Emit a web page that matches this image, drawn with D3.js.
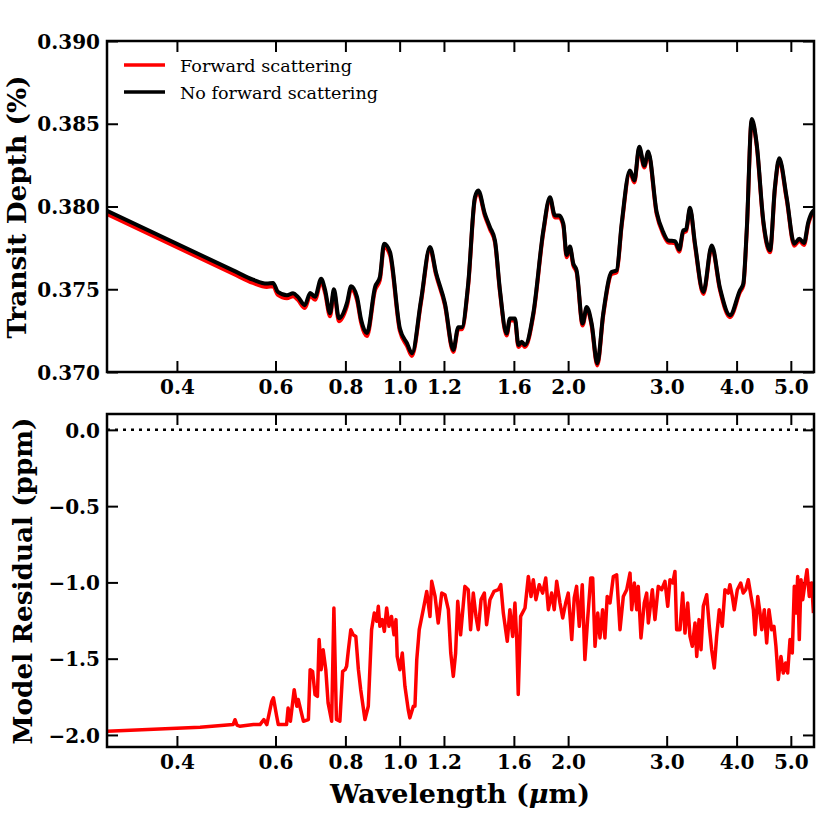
<!DOCTYPE html>
<html>
<head>
<meta charset="utf-8">
<script src="https://cdn.jsdelivr.net/npm/d3@7"></script>
<style>
body { margin: 0; background: #fff; }
.tick text { font-family: 'DejaVu Serif', serif; font-weight: bold; font-size: 20px; fill: #000; }
.tick line { stroke: #000; stroke-width: 2; }
</style>
</head>
<body>
<div id="chart"></div>
<script>
// transit spectrum, wavelength in micron
var specWave = [
  0.300,0.504,0.547,0.579,0.594,0.606,0.629,0.645,0.658,0.677,
  0.692,0.706,0.724,0.736,0.751,0.763,0.779,0.805,0.819,0.839,
  0.853,0.874,0.904,0.922,0.938,0.961,1.001,1.031,1.052,1.092,
  1.133,1.161,1.205,1.247,1.273,1.291,1.326,1.363,1.382,1.420,
  1.450,1.480,1.511,1.553,1.574,1.607,1.630,1.652,1.675,1.733,
  1.806,1.856,1.894,1.928,1.961,1.988,2.015,2.043,2.071,2.123,
  2.159,2.203,2.255,2.311,2.392,2.442,2.493,2.579,2.626,2.680,
  2.736,2.781,2.879,2.958,3.020,3.104,3.159,3.212,3.249,3.302,
  3.371,3.489,3.611,3.737,3.893,4.056,4.112,4.170,4.257,4.345,
  4.464,4.589,4.683,4.767,4.914,5.071,5.177,5.278,5.372,5.460,
  5.500
];
// transit depth (%) without forward scattering
var depthNoFwd = [
  0.37974,0.37614,0.37558,0.37534,0.37538,0.37484,0.37464,0.37476,0.37454,0.37404,
  0.37478,0.37454,0.37564,0.37494,0.37355,0.37500,0.37325,0.37416,0.37518,0.37454,
  0.37319,0.37235,0.37514,0.37574,0.37775,0.37725,0.37263,0.37173,0.37113,0.37434,
  0.37756,0.37602,0.37414,0.37133,0.37271,0.37271,0.37536,0.38056,0.38096,0.37956,
  0.37875,0.37795,0.37494,0.37233,0.37323,0.37323,0.37163,0.37183,0.37163,0.37354,
  0.37855,0.38056,0.37946,0.37946,0.37896,0.37705,0.37759,0.37655,0.37614,0.37293,
  0.37393,0.37293,0.37052,0.37354,0.37604,0.37614,0.37896,0.38217,0.38157,0.38361,
  0.38247,0.38333,0.37966,0.37845,0.37795,0.37791,0.37739,0.37855,0.37861,0.37992,
  0.37775,0.37484,0.37765,0.37504,0.37343,0.37494,0.37534,0.37855,0.38528,0.38378,
  0.37916,0.37735,0.38116,0.38291,0.38056,0.37775,0.37805,0.37779,0.37905,0.37966,
  0.37976
];
// transit depth (%) with forward scattering
var depthFwd = [
  0.37954,0.37594,0.37538,0.37514,0.37518,0.37466,0.37446,0.37458,0.37436,0.37386,
  0.37460,0.37436,0.37546,0.37476,0.37337,0.37482,0.37307,0.37398,0.37500,0.37436,
  0.37301,0.37217,0.37496,0.37556,0.37757,0.37707,0.37247,0.37157,0.37097,0.37421,
  0.37744,0.37590,0.37402,0.37121,0.37259,0.37259,0.37524,0.38044,0.38084,0.37944,
  0.37863,0.37783,0.37482,0.37221,0.37311,0.37311,0.37151,0.37171,0.37151,0.37342,
  0.37843,0.38044,0.37934,0.37934,0.37884,0.37693,0.37747,0.37643,0.37602,0.37281,
  0.37381,0.37281,0.37040,0.37342,0.37592,0.37602,0.37884,0.38205,0.38145,0.38349,
  0.38235,0.38321,0.37954,0.37833,0.37783,0.37779,0.37727,0.37843,0.37849,0.37980,
  0.37763,0.37472,0.37753,0.37492,0.37331,0.37482,0.37522,0.37843,0.38516,0.38366,
  0.37904,0.37723,0.38104,0.38279,0.38044,0.37763,0.37793,0.37767,0.37893,0.37954,
  0.37964
];

// model residual (ppm)
var residWave = [
  0.300,0.440,0.504,0.508,0.512,0.518,0.548,0.563,0.572,0.579,
  0.591,0.595,0.603,0.607,0.628,0.632,0.638,0.648,0.655,0.659,
  0.673,0.687,0.692,0.699,0.706,0.713,0.718,0.724,0.730,0.738,
  0.745,0.756,0.763,0.771,0.782,0.791,0.799,0.804,0.810,0.818,
  0.826,0.835,0.844,0.852,0.867,0.879,0.891,0.901,0.910,0.916,
  0.922,0.931,0.939,0.948,0.957,0.967,0.977,0.985,0.990,1.001,
  1.011,1.022,1.036,1.043,1.058,1.065,1.073,1.084,1.102,1.118,
  1.133,1.141,1.157,1.172,1.189,1.205,1.222,1.234,1.247,1.259,
  1.270,1.285,1.308,1.326,1.339,1.354,1.369,1.382,1.398,1.417,
  1.430,1.450,1.474,1.501,1.516,1.532,1.557,1.574,1.592,1.607,
  1.619,1.629,1.645,1.675,1.698,1.717,1.733,1.752,1.776,1.801,
  1.824,1.844,1.869,1.889,1.908,1.934,1.956,1.980,2.001,2.016,
  2.030,2.051,2.071,2.094,2.120,2.143,2.167,2.195,2.213,2.234,
  2.259,2.280,2.305,2.327,2.349,2.376,2.409,2.442,2.476,2.510,
  2.545,2.580,2.598,2.626,2.652,2.669,2.699,2.736,2.763,2.782,
  2.828,2.859,2.898,2.939,2.979,3.013,3.041,3.075,3.104,3.126,
  3.169,3.204,3.235,3.271,3.302,3.334,3.371,3.395,3.427,3.455,
  3.488,3.537,3.575,3.610,3.649,3.685,3.725,3.771,3.813,3.865,
  3.892,3.930,3.962,4.012,4.068,4.111,4.153,4.197,4.245,4.286,
  4.316,4.364,4.405,4.436,4.483,4.527,4.570,4.621,4.665,4.703,
  4.748,4.801,4.847,4.895,4.935,4.983,5.030,5.072,5.107,5.143,
  5.177,5.214,5.250,5.300,5.344,5.395,5.448,5.487
];
var residual = [
  -1.976,-1.950,-1.932,-1.900,-1.935,-1.943,-1.932,-1.932,-1.899,-1.932,
  -1.779,-1.757,-1.877,-1.932,-1.932,-1.823,-1.910,-1.703,-1.812,-1.768,
  -1.910,-1.899,-1.572,-1.583,-1.735,-1.747,-1.375,-1.572,-1.441,-1.572,
  -1.790,-1.910,-1.168,-1.899,-1.910,-1.583,-1.572,-1.550,-1.441,-1.310,
  -1.343,-1.354,-1.572,-1.703,-1.899,-1.812,-1.310,-1.201,-1.255,-1.157,
  -1.288,-1.244,-1.321,-1.168,-1.288,-1.223,-1.343,-1.244,-1.485,-1.572,
  -1.463,-1.681,-1.834,-1.888,-1.812,-1.812,-1.506,-1.310,-1.179,-1.059,
  -1.223,-0.993,-1.092,-1.266,-1.070,-1.081,-1.179,-1.463,-1.616,-1.463,
  -1.124,-1.343,-1.026,-1.048,-1.310,-1.070,-1.223,-1.310,-1.113,-1.070,
  -1.277,-1.113,-1.059,-1.048,-1.015,-1.201,-1.386,-1.179,-1.354,-1.135,
  -1.375,-1.735,-1.223,-1.168,-0.961,-1.092,-0.982,-1.113,-1.015,-1.070,
  -0.971,-1.179,-1.070,-1.179,-0.993,-1.135,-1.233,-1.135,-1.070,-1.223,
  -1.375,-1.102,-1.026,-1.288,-1.015,-1.506,-1.244,-0.971,-0.971,-1.419,
  -1.201,-1.364,-1.179,-1.364,-1.092,-1.135,-0.961,-0.950,-1.310,-1.092,
  -1.048,-0.939,-1.179,-1.004,-1.179,-1.026,-1.364,-1.135,-1.070,-1.266,
  -1.048,-1.244,-1.026,-1.048,-0.993,-1.157,-0.982,-1.004,-0.928,-1.310,
  -1.310,-1.070,-1.332,-1.135,-1.354,-1.419,-1.266,-1.485,-1.244,-1.441,
  -1.157,-1.081,-1.288,-1.441,-1.561,-1.354,-1.179,-1.288,-1.048,-1.070,
  -1.015,-1.092,-1.179,-1.048,-1.004,-1.070,-1.048,-0.982,-1.092,-1.179,
  -1.343,-1.092,-1.201,-1.310,-1.179,-1.397,-1.179,-1.310,-1.288,-1.419,
  -1.637,-1.485,-1.594,-1.528,-1.594,-1.375,-1.463,-1.026,-1.201,-0.961,
  -1.375,-0.982,-1.113,-1.004,-0.917,-1.092,-1.004,-1.201
];

var xTicks = [0.4, 0.6, 0.8, 1.0, 1.2, 1.6, 2.0, 3.0, 4.0, 5.0];
var depthTicks = [0.370, 0.375, 0.380, 0.385, 0.390];
var residTicks = [-2.0, -1.5, -1.0, -0.5, 0.0];
var legendLabels = ['Forward scattering', 'No forward scattering'];
var legendColors = ['#ff0000', '#000000'];

var width = 830, height = 830;
var left = 107, right = 814;
var topPanel = { y0: 41, y1: 372 };
var botPanel = { y0: 414, y1: 747 };
var serif = "'DejaVu Serif', serif";

var svg = d3.select('#chart').append('svg')
    .attr('width', width)
    .attr('height', height);

var x = d3.scaleLog().domain([0.3, 5.5]).range([left, right]);
var yTop = d3.scaleLinear().domain([0.370, 0.390]).range([topPanel.y1, topPanel.y0]);
var yBot = d3.scaleLinear().domain([-2.079, 0.104]).range([botPanel.y1, botPanel.y0]);

// clip paths for both panels
var defs = svg.append('defs');
[['clipTop', topPanel], ['clipBot', botPanel]].forEach(function (c) {
    defs.append('clipPath').attr('id', c[0])
        .append('rect')
        .attr('x', left).attr('y', c[1].y0)
        .attr('width', right - left).attr('height', c[1].y1 - c[1].y0);
});

function drawAxes(panel, yScale, yTicks, yFmt) {
    var g = svg.append('g');
    g.append('g')
        .attr('class', 'xbottom')
        .attr('transform', 'translate(0,' + panel.y1 + ')')
        .call(d3.axisBottom(x).tickValues(xTicks).tickFormat(d3.format('.1f'))
            .tickSizeInner(-11).tickSizeOuter(0).tickPadding(8));
    g.append('g')
        .attr('transform', 'translate(0,' + panel.y0 + ')')
        .call(d3.axisTop(x).tickValues(xTicks).tickFormat('')
            .tickSizeInner(-11).tickSizeOuter(0));
    g.append('g')
        .attr('transform', 'translate(' + left + ',0)')
        .call(d3.axisLeft(yScale).tickValues(yTicks).tickFormat(yFmt)
            .tickSizeInner(-11).tickSizeOuter(0).tickPadding(7));
    g.append('g')
        .attr('transform', 'translate(' + right + ',0)')
        .call(d3.axisRight(yScale).tickValues(yTicks).tickFormat('')
            .tickSizeInner(-11).tickSizeOuter(0));
    g.selectAll('.domain').remove();
    g.selectAll('.tick text').attr('dy', '0.36em');
    g.select('.xbottom').selectAll('.tick text').attr('dy', '0.71em');
    return g;
}

var minus = function (f) {
    return function (d) { return f(d).replace('-', '\u2212'); };
};

drawAxes(topPanel, yTop, depthTicks, d3.format('.3f'));
drawAxes(botPanel, yBot, residTicks, minus(d3.format('.1f')));

// top panel: spectra
var specLine = function (vals) {
    return d3.line()
        .x(function (d, i) { return x(specWave[i]); })
        .y(function (d) { return yTop(d); })
        .curve(d3.curveMonotoneX)(vals);
};
var topG = svg.append('g').attr('clip-path', 'url(#clipTop)');
topG.append('path')
    .attr('d', specLine(depthFwd))
    .attr('fill', 'none').attr('stroke', '#ff0000').attr('stroke-width', 4)
    .attr('stroke-linejoin', 'round');
topG.append('path')
    .attr('d', specLine(depthNoFwd))
    .attr('fill', 'none').attr('stroke', '#000').attr('stroke-width', 4)
    .attr('stroke-linejoin', 'round');

// bottom panel: residual
var botG = svg.append('g').attr('clip-path', 'url(#clipBot)');
botG.append('path')
    .attr('d', d3.line().x(function (d) { return x(d); }).y(yBot(0))(x.domain()))
    .attr('fill', 'none').attr('stroke', '#000').attr('stroke-width', 2.5)
    .attr('stroke-dasharray', '3,5');
botG.append('path')
    .attr('d', d3.line()
        .x(function (d, i) { return x(residWave[i]); })
        .y(function (d) { return yBot(d); })(residual))
    .attr('fill', 'none').attr('stroke', '#ff0000').attr('stroke-width', 3.5)
    .attr('stroke-linejoin', 'round');

// frames
[topPanel, botPanel].forEach(function (p) {
    svg.append('rect')
        .attr('x', left).attr('y', p.y0)
        .attr('width', right - left).attr('height', p.y1 - p.y0)
        .attr('fill', 'none').attr('stroke', '#000').attr('stroke-width', 2.5);
});

// legend
legendLabels.forEach(function (lab, i) {
    var yy = 65 + i * 27;
    svg.append('line')
        .attr('x1', 124).attr('x2', 165).attr('y1', yy).attr('y2', yy)
        .attr('stroke', legendColors[i]).attr('stroke-width', 3.5);
    svg.append('text')
        .attr('x', 180).attr('y', yy + 6.5)
        .attr('font-family', serif).attr('font-size', 17)
        .attr('textLength', i === 0 ? 172 : 198).attr('lengthAdjust', 'spacingAndGlyphs')
        .text(lab);
});

// axis titles
svg.append('text')
    .attr('transform', 'translate(26,207) rotate(-90)')
    .attr('text-anchor', 'middle')
    .attr('font-family', serif).attr('font-weight', 'bold').attr('font-size', 26)
    .attr('textLength', 263).attr('lengthAdjust', 'spacingAndGlyphs')
    .text('Transit Depth (%)');
svg.append('text')
    .attr('transform', 'translate(32,581) rotate(-90)')
    .attr('text-anchor', 'middle')
    .attr('font-family', serif).attr('font-weight', 'bold').attr('font-size', 26)
    .attr('textLength', 327).attr('lengthAdjust', 'spacingAndGlyphs')
    .text('Model Residual (ppm)');
var xl = svg.append('text')
    .attr('x', 460).attr('y', 803)
    .attr('text-anchor', 'middle')
    .attr('font-family', serif).attr('font-weight', 'bold').attr('font-size', 26)
    .attr('textLength', 260).attr('lengthAdjust', 'spacingAndGlyphs');
xl.append('tspan').text('Wavelength (');
xl.append('tspan').attr('font-style', 'italic').text('\u03bc');
xl.append('tspan').text('m)');
</script>
</body>
</html>
